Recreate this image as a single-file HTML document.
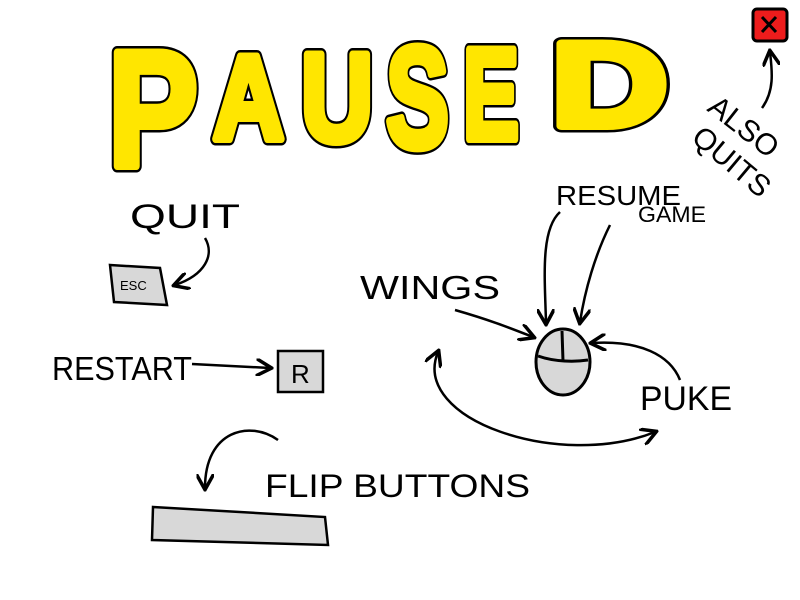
<!DOCTYPE html>
<html><head><meta charset="utf-8"><style>
html,body{margin:0;padding:0;background:#fff;width:800px;height:600px;overflow:hidden}
svg{display:block}
text{font-family:"Liberation Sans",sans-serif;fill:#000}
.pl{font-weight:bold}
.bk text{fill:#000;stroke:#000;stroke-width:13;stroke-linejoin:round}
.yl text{fill:#ffe600;stroke:#ffe600;stroke-width:8;stroke-linejoin:round}
</style></head><body>
<svg width="800" height="600" viewBox="0 0 800 600">
<defs><marker id="ah" viewBox="0 0 10 10" refX="8" refY="5" markerWidth="7" markerHeight="7" orient="auto-start-reverse"><path d="M0,0 L9,5 L0,10" fill="none" stroke="#000" stroke-width="2"/></marker></defs>
<g>
<g class="bk">
<text class="pl" x="108" y="166" font-size="165" textLength="90" lengthAdjust="spacingAndGlyphs">P</text>
<text class="pl" x="213" y="139" font-size="120" textLength="71" lengthAdjust="spacingAndGlyphs">A</text>
<text class="pl" x="301" y="141" font-size="125" textLength="72" lengthAdjust="spacingAndGlyphs">U</text>
<text class="pl" x="386" y="147" font-size="144" textLength="63" lengthAdjust="spacingAndGlyphs">S</text>
<text class="pl" x="463" y="139" font-size="130" textLength="56" lengthAdjust="spacingAndGlyphs">E</text>
<text class="pl" x="551" y="126" font-size="120" textLength="117" lengthAdjust="spacingAndGlyphs">D</text>
</g>
<g class="yl">
<text class="pl" x="108" y="166" font-size="165" textLength="90" lengthAdjust="spacingAndGlyphs">P</text>
<text class="pl" x="213" y="139" font-size="120" textLength="71" lengthAdjust="spacingAndGlyphs">A</text>
<text class="pl" x="301" y="141" font-size="125" textLength="72" lengthAdjust="spacingAndGlyphs">U</text>
<text class="pl" x="386" y="147" font-size="144" textLength="63" lengthAdjust="spacingAndGlyphs">S</text>
<text class="pl" x="463" y="139" font-size="130" textLength="56" lengthAdjust="spacingAndGlyphs">E</text>
<text class="pl" x="551" y="126" font-size="120" textLength="117" lengthAdjust="spacingAndGlyphs">D</text>
</g>
</g>
<g>
<rect x="753" y="9" width="34" height="32" rx="4" fill="#ee1c1c" stroke="#000" stroke-width="3"/>
<path d="M762,17 L776,32 M776,17 L762,32" stroke="#000" stroke-width="3"/>
</g>
<path d="M762,108 C775,90 772,70 770,52" fill="none" stroke="#000" stroke-width="2.5" marker-end="url(#ah)"/>
<text transform="translate(706,110) rotate(38)" font-size="30">ALSO</text>
<text transform="translate(690,140) rotate(40)" font-size="30">QUITS</text>
<text x="130" y="228" font-size="34" textLength="110" lengthAdjust="spacingAndGlyphs">QUIT</text>
<path d="M205,238 C215,255 205,275 175,285" fill="none" stroke="#000" stroke-width="2.5" marker-end="url(#ah)"/>
<g>
<path d="M110,265 L160,268 L167,305 L114,302 Z" fill="#d8d8d8" stroke="#000" stroke-width="2.5"/>
<text x="120" y="290" font-size="13">ESC</text>
</g>
<text x="52" y="380" font-size="33" textLength="140" lengthAdjust="spacingAndGlyphs">RESTART</text>
<path d="M192,364 L270,368" fill="none" stroke="#000" stroke-width="2.5" marker-end="url(#ah)"/>
<g>
<rect x="278" y="351" width="45" height="41" fill="#d8d8d8" stroke="#000" stroke-width="2.5"/>
<text x="291" y="383" font-size="26" font-weight="300">R</text>
</g>
<path d="M278,440 C250,420 205,430 205,488" fill="none" stroke="#000" stroke-width="2.5" marker-end="url(#ah)"/>
<text x="265" y="497" font-size="32" textLength="265" lengthAdjust="spacingAndGlyphs">FLIP BUTTONS</text>
<path d="M153,507 L325,517 L328,545 L152,540 Z" fill="#d8d8d8" stroke="#000" stroke-width="2.5"/>
<text x="360" y="299" font-size="33" textLength="140" lengthAdjust="spacingAndGlyphs">WINGS</text>
<path d="M455,310 C490,320 510,328 533,337" fill="none" stroke="#000" stroke-width="2.5" marker-end="url(#ah)"/>
<text x="556" y="205" font-size="28" textLength="125" lengthAdjust="spacingAndGlyphs">RESUME</text>
<text x="638" y="222" font-size="22" textLength="68" lengthAdjust="spacingAndGlyphs">GAME</text>
<path d="M560,212 C540,230 545,280 546,323" fill="none" stroke="#000" stroke-width="2.5" marker-end="url(#ah)"/>
<path d="M610,225 C595,255 585,290 580,322" fill="none" stroke="#000" stroke-width="2.5" marker-end="url(#ah)"/>
<g>
<ellipse cx="563" cy="362" rx="27" ry="33" fill="#d8d8d8" stroke="#000" stroke-width="3"/>
<path d="M538,356 C555,362 575,362 588,360 M562,331 L563,361" fill="none" stroke="#000" stroke-width="3"/>
</g>
<path d="M680,380 C670,355 640,340 592,343" fill="none" stroke="#000" stroke-width="2.5" marker-end="url(#ah)"/>
<text x="640" y="410" font-size="34" textLength="92" lengthAdjust="spacingAndGlyphs">PUKE</text>
<path d="M438,352 C410,420 560,470 655,432" fill="none" stroke="#000" stroke-width="2.5" marker-start="url(#ah)" marker-end="url(#ah)"/>
</svg>
</body></html>
